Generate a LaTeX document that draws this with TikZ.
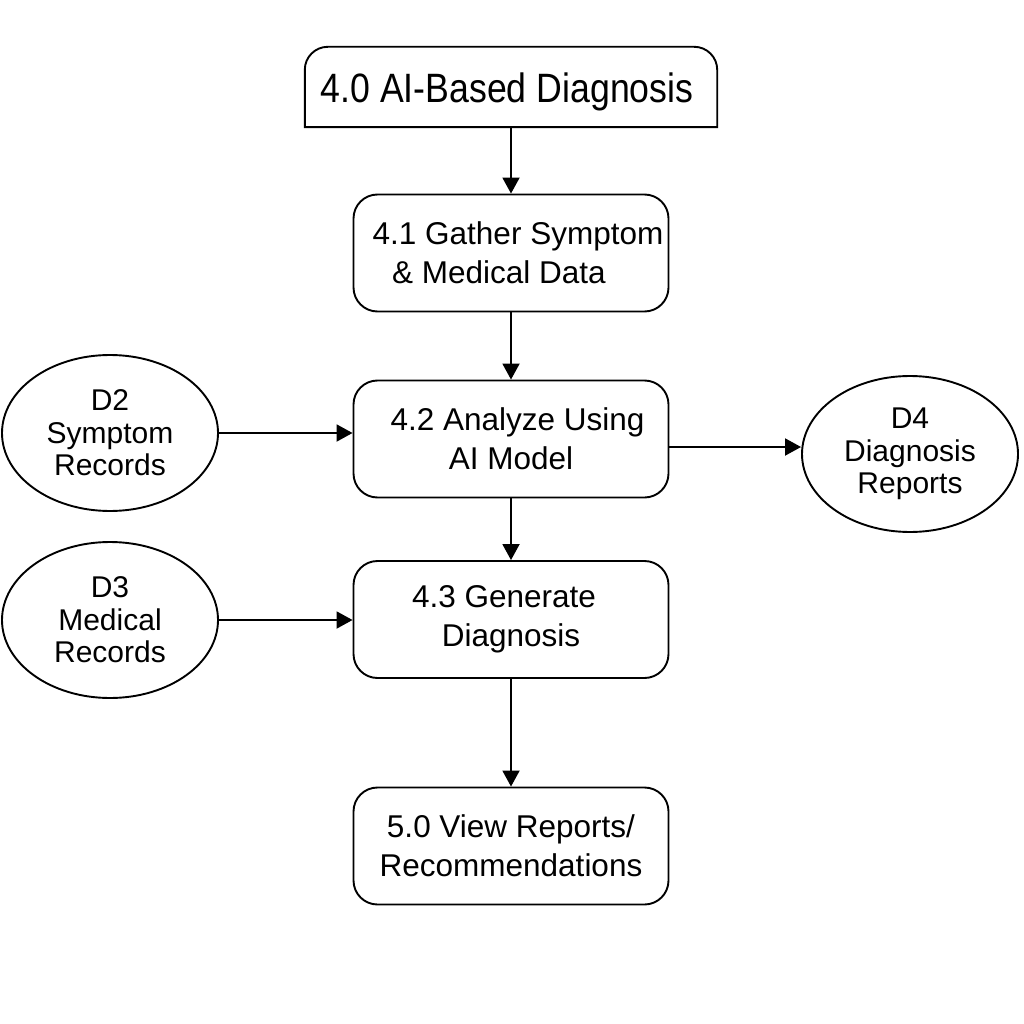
\documentclass[tikz,border=0pt]{standalone}
\usepackage{fontspec}
\usepackage{graphicx}
\setmainfont{Liberation Sans}
\usetikzlibrary{arrows.meta,shapes.geometric}
\begin{document}
\begin{tikzpicture}[x=1pt,y=-1pt,
  proc/.style={draw, line width=1.9pt, rounded corners=24pt, minimum width=315pt, minimum height=117pt, inner sep=0pt, align=center, font=\fontsize{31.5}{39}\selectfont},
  store/.style={draw, ellipse, line width=1.9pt, minimum width=216pt, minimum height=156pt, inner sep=0pt, align=center, font=\fontsize{30}{32.5}\selectfont},
  arr/.style={line width=1.9pt, -{Triangle[length=16pt,width=17pt]}}]
\useasboundingbox[fill=white] (0,0) rectangle (1024,1024);
\node[minimum width=412pt, minimum height=80pt, inner sep=0pt] (t) at (511,87) {};
\node[anchor=base, inner sep=0pt] (tt) at (507,103) {\scalebox{0.87}[1]{\fontsize{41}{41}\selectfont 4.0 AI-Based Diagnosis}};
\draw[line width=1.9pt] (t.south west) [rounded corners=23pt] -- (t.north west) -- (t.north east) [sharp corners] -- (t.south east) -- cycle;
\node[proc] (p41) at (511,253) {\mbox{\hspace{14pt}4.1 Gather Symptom}\\ \mbox{\& Medical Data\hspace{24pt}}};
\node[proc] (p42) at (511,439) {\mbox{\hspace{13pt}4.2 Analyze Using}\\ AI Model};
\node[proc] (p43) at (511,619.5) {\mbox{4.3 Generate\hspace{14pt}}\\ Diagnosis};
\node[proc] (p50) at (511,846) {5.0 View Reports/\\ Recommendations};
\node[store] (d2) at (110,433) {D2\\ Symptom\\ Records};
\node[store] (d3) at (110,620) {D3\\ Medical\\ Records};
\node[store] (d4) at (910,454) {D4\\ Diagnosis\\ Reports};
\draw[arr] (t.south) -- (p41.north);
\draw[arr] (p41.south) -- (p42.north);
\draw[arr] (p42.south) -- (p43.north);
\draw[arr] (p43.south) -- (p50.north);
\draw[arr] (d2.east) -- (d2.east -| p42.west);
\draw[arr] (d3.east) -- (d3.east -| p43.west);
\coordinate (o42) at ([yshift=-8pt]p42.east);
\draw[arr] (o42) -- (o42 -| d4.west);
\end{tikzpicture}
\end{document}
